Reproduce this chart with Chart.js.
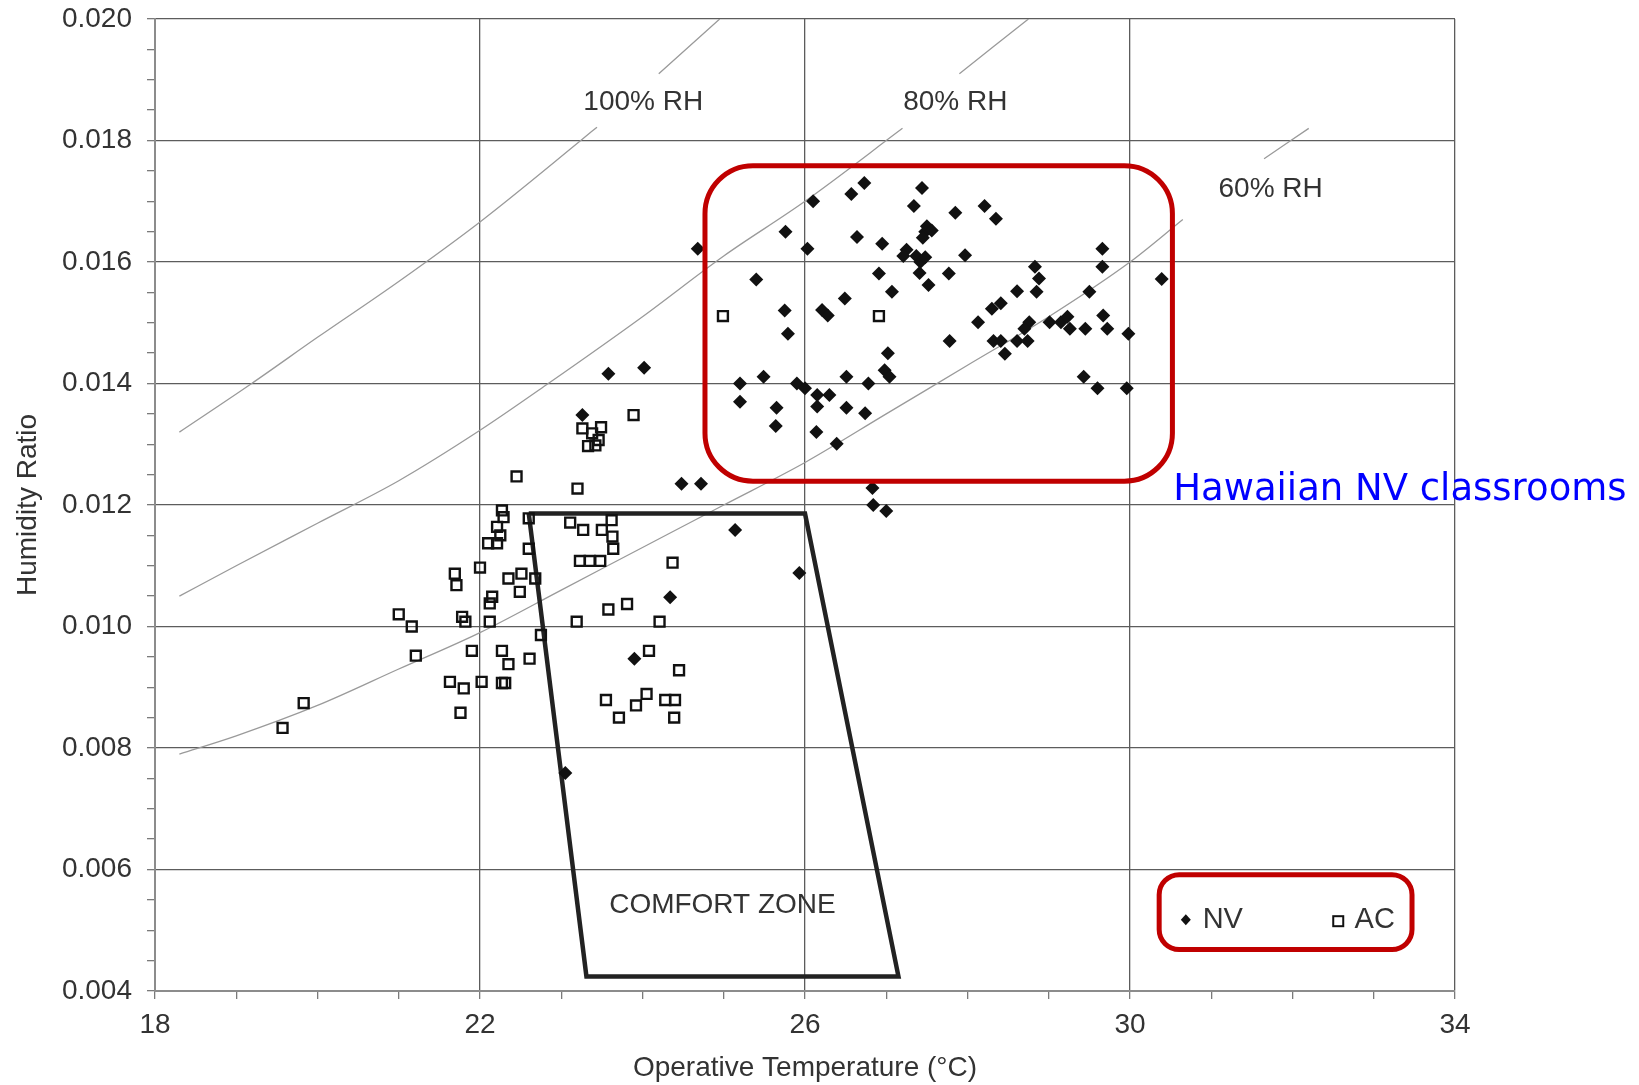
<!DOCTYPE html>
<html>
<head>
<meta charset="utf-8">
<title>Humidity ratio vs operative temperature</title>
<script src="https://cdn.jsdelivr.net/npm/chart.js@4.4.1/dist/chart.umd.min.js"></script>
<style>
    html, body { margin: 0; padding: 0; background: #ffffff; }
    #wrap { width: 1639px; height: 1085px; position: relative; }
</style>
</head>
<body>
<div id="wrap"><canvas id="psyChart"></canvas></div>
<script>
// --- DATA ---

// Naturally ventilated classrooms (filled diamonds)
const nvTemp = [
    26.73, 26.57, 26.10, 27.44, 27.34, 27.85, 28.21, 28.35,
    27.50, 27.48, 27.45, 27.56,
    25.76, 24.68, 26.03, 26.64, 26.95,
    27.25, 27.21, 27.37, 27.42, 27.48,
    27.97, 26.91, 27.41, 27.52, 27.77, 25.40, 27.07, 26.49, 25.75, 26.21, 26.28, 25.79, 27.02, 26.98, 27.04,
    25.20, 25.49, 25.20, 25.90, 26.00, 26.15, 26.30, 26.15, 26.51, 26.78, 25.65, 26.51, 26.74, 25.64, 26.14, 26.39,
    27.78, 28.13, 28.30, 28.41, 28.61, 28.83, 28.88, 28.85, 28.32, 28.41, 28.46, 28.61, 28.74, 28.76, 28.70,
    29.01, 29.15, 29.23, 29.26, 29.45, 29.50, 29.66, 29.66, 29.67, 29.72, 29.98, 29.43, 29.60, 29.96, 30.39,
    24.48, 24.72, 26.83, 26.84, 27.00, 25.14,
    23.58, 24.02, 23.26, 25.93, 24.34, 23.90, 23.05
];
const nvHum = [
    0.01730, 0.01712, 0.01700, 0.01722, 0.01692, 0.01681, 0.01692, 0.01671,
    0.01659, 0.01650, 0.01640, 0.01652,
    0.01650, 0.01622, 0.01622, 0.01641, 0.01630,
    0.01620, 0.01610, 0.01610, 0.01600, 0.01608,
    0.01611, 0.01581, 0.01582, 0.01562, 0.01581, 0.01571, 0.01551, 0.01540, 0.01520, 0.01521, 0.01512, 0.01482, 0.01450, 0.01422, 0.01411,
    0.01400, 0.01411, 0.01370, 0.01400, 0.01392, 0.01381, 0.01381, 0.01362, 0.01411, 0.01400, 0.01360, 0.01360, 0.01351, 0.01330, 0.01320, 0.01301,
    0.01470, 0.01501, 0.01523, 0.01532, 0.01552, 0.01592, 0.01573, 0.01551, 0.01470, 0.01470, 0.01449, 0.01470, 0.01470, 0.01501, 0.01490,
    0.01501, 0.01501, 0.01510, 0.01490, 0.01490, 0.01551, 0.01622, 0.01592, 0.01512, 0.01490, 0.01482, 0.01411, 0.01392, 0.01392, 0.01572,
    0.01235, 0.01235, 0.01228, 0.01200, 0.01190, 0.01159,
    0.01416, 0.01426, 0.01348, 0.01088, 0.01048, 0.00947, 0.00759
];

// Air-conditioned classrooms (open squares)
const acTemp = [
    24.99, 26.91,
    23.89, 23.26, 23.38, 23.49, 23.46, 23.33, 23.42,
    22.45, 23.20,
    22.27, 22.29, 22.21, 22.25, 22.10, 22.21,
    22.60, 22.60, 23.11, 23.27, 23.50, 23.62, 23.63, 23.64, 23.23, 23.35, 23.48, 24.37,
    22.00, 21.69, 21.71, 22.35, 22.51, 22.68, 22.49, 22.15, 22.12,
    21.00, 21.16, 21.78, 21.82, 22.12, 23.19, 23.58, 23.81, 24.21,
    22.75, 21.21, 21.90, 22.27, 22.35, 22.61, 24.08, 24.45,
    21.63, 21.80, 22.02, 22.27, 22.31,
    19.83, 19.57, 21.76, 23.55, 23.92, 24.05, 24.28, 24.40, 23.71, 24.39
];
const acHum = [
    0.01511, 0.01511,
    0.01348, 0.01326, 0.01318, 0.01328, 0.01307, 0.01297, 0.01298,
    0.01247, 0.01227,
    0.01191, 0.01180, 0.01164, 0.01150, 0.01137, 0.01137,
    0.01178, 0.01128, 0.01171, 0.01159, 0.01159, 0.01175, 0.01148, 0.01128, 0.01108, 0.01108, 0.01108, 0.01105,
    0.01097, 0.01087, 0.01068, 0.01079, 0.01087, 0.01079, 0.01057, 0.01049, 0.01038,
    0.01020, 0.01000, 0.01016, 0.01008, 0.01008, 0.01008, 0.01028, 0.01037, 0.01008,
    0.00986, 0.00952, 0.00960, 0.00960, 0.00938, 0.00947, 0.00960, 0.00928,
    0.00909, 0.00898, 0.00909, 0.00907, 0.00907,
    0.00874, 0.00833, 0.00858, 0.00879, 0.00870, 0.00889, 0.00879, 0.00879, 0.00850, 0.00850
];

// Relative humidity curves (null = gap left for the label)
const rh100Temp = [18.3, 19.19, 20, 21, 22, 23.24, 23.44, 23.8, 24.2, 24.95];
const rh100Hum = [0.0132, 0.0140, 0.01476, 0.01568, 0.01666, 0.0180, 0.01822, null, 0.0191, 0.0200];
const rh80Temp = [18.3, 19, 20, 21, 22, 22.84, 24, 25, 26, 27.2, 27.5, 27.9, 28.75];
const rh80Hum = [0.0105, 0.0110, 0.0117, 0.0124, 0.01323, 0.0140, 0.0151, 0.0161, 0.0170, 0.0182, null, 0.0191, 0.0200];
const rh60Temp = [18.3, 19, 20, 21, 22, 23, 24, 25, 26, 27, 28, 29, 30, 30.65, 31.1, 31.65, 32.2];
const rh60Hum = [0.0079, 0.0082, 0.0087, 0.0093, 0.0099, 0.0106, 0.0113, 0.0120, 0.0127, 0.0135, 0.0143, 0.0151, 0.0160, 0.0167, null, 0.0177, 0.0182];

// Comfort zone outline
const comfortTemp = [22.6, 26.0, 27.15, 23.31, 22.6];
const comfortHum = [0.01186, 0.01186, 0.00424, 0.00424, 0.01186];

// Axis ticks
const xMajorTicks = [18, 22, 26, 30, 34];
const yMajorTicks = [0.004, 0.006, 0.008, 0.010, 0.012, 0.014, 0.016, 0.018, 0.020];

const toPoints = (xs, ys) => xs.map((v, i) => ({ x: v, y: ys[i] }));

const FONT = "'Liberation Sans', Arial, Helvetica, sans-serif";
const TEXT_COLOR = '#333333';

const isMajorX = v => xMajorTicks.some(t => Math.abs(t - v) < 1e-6);
const isMajorY = v => yMajorTicks.some(t => Math.abs(t - v) < 1e-7);

// --- 2. ANNOTATIONS (red boxes, labels, legend) ---
function roundBox(ctx, x0, y0, x1, y1, r) {
    ctx.beginPath();
    ctx.moveTo(x0 + r, y0);
    ctx.arcTo(x1, y0, x1, y1, r);
    ctx.arcTo(x1, y1, x0, y1, r);
    ctx.arcTo(x0, y1, x0, y0, r);
    ctx.arcTo(x0, y0, x1, y0, r);
    ctx.closePath();
    ctx.stroke();
}

const annotationPlugin = {
    id: 'annotations',
    afterDraw(chart) {
        const { ctx } = chart;
        const sx = chart.scales.x, sy = chart.scales.y;
        const px = v => sx.getPixelForValue(v);
        const py = v => sy.getPixelForValue(v);

        ctx.save();

        // red highlight boxes
        ctx.strokeStyle = '#c00000';
        ctx.lineWidth = 5;
        roundBox(ctx, px(24.769), py(0.017585), px(30.522), py(0.012392), 48);
        roundBox(ctx, px(30.359), py(0.005914), px(33.471), py(0.004683), 20);

        // RH and comfort zone labels
        ctx.fillStyle = TEXT_COLOR;
        ctx.textBaseline = 'alphabetic';
        ctx.font = '28px ' + FONT;
        ctx.textAlign = 'left';
        ctx.fillText('100% RH', px(23.272), py(0.0185));
        ctx.fillText('80% RH', px(27.208), py(0.0185));
        ctx.fillText('60% RH', px(31.089), py(0.017072));
        ctx.textAlign = 'center';
        ctx.fillText('COMFORT ZONE', px(24.984), py(0.005281));

        // legend
        ctx.textAlign = 'left';
        ctx.font = '29px ' + FONT;
        ctx.fillText('NV', px(30.894), py(0.005034));
        ctx.fillText('AC', px(32.764), py(0.005034));
        const dx = px(30.687), dy = py(0.005174);
        ctx.fillStyle = '#111111';
        ctx.beginPath();
        ctx.moveTo(dx, dy - 5.5);
        ctx.lineTo(dx + 5, dy);
        ctx.lineTo(dx, dy + 5.5);
        ctx.lineTo(dx - 5, dy);
        ctx.closePath();
        ctx.fill();
        ctx.strokeStyle = '#111111';
        ctx.lineWidth = 2;
        ctx.strokeRect(px(32.563) - 5, py(0.005149) - 5, 10, 10);

        // blue caption
        ctx.fillStyle = '#0000ff';
        ctx.font = '10px ' + "'DejaVu Sans', Verdana, sans-serif";
        const w10 = ctx.measureText('Hawaiian NV classrooms').width;
        const size = 10 * 454 / w10;
        ctx.font = size.toFixed(1) + "px 'DejaVu Sans', Verdana, sans-serif";
        ctx.fillText('Hawaiian NV classrooms', px(30.531), py(0.012079));

        ctx.restore();
    }
};

// --- 3. CHART ---
const ctx = document.getElementById('psyChart').getContext('2d');

const myChart = new Chart(ctx, {
    type: 'scatter',
    data: {
        datasets: [
            {
                label: 'NV',
                data: toPoints(nvTemp, nvHum),
                pointStyle: 'rectRot',
                pointRadius: 7,
                backgroundColor: '#111111',
                borderColor: '#111111',
                borderWidth: 0
            },
            {
                label: 'AC',
                data: toPoints(acTemp, acHum),
                pointStyle: 'rect',
                pointRadius: 7,
                backgroundColor: 'rgba(0,0,0,0)',
                borderColor: '#111111',
                borderWidth: 2.4
            },
            {
                label: 'Comfort zone',
                data: toPoints(comfortTemp, comfortHum),
                showLine: true,
                pointRadius: 0,
                borderColor: '#222222',
                borderWidth: 4.5,
                borderJoinStyle: 'miter',
                tension: 0
            },
            {
                label: '100% RH',
                data: toPoints(rh100Temp, rh100Hum),
                showLine: true,
                spanGaps: false,
                pointRadius: 0,
                borderColor: '#9a9a9a',
                borderWidth: 1.3,
                cubicInterpolationMode: 'monotone'
            },
            {
                label: '80% RH',
                data: toPoints(rh80Temp, rh80Hum),
                showLine: true,
                spanGaps: false,
                pointRadius: 0,
                borderColor: '#9a9a9a',
                borderWidth: 1.3,
                cubicInterpolationMode: 'monotone'
            },
            {
                label: '60% RH',
                data: toPoints(rh60Temp, rh60Hum),
                showLine: true,
                spanGaps: false,
                pointRadius: 0,
                borderColor: '#9a9a9a',
                borderWidth: 1.3,
                cubicInterpolationMode: 'monotone'
            }
        ]
    },
    options: {
        responsive: true,
        maintainAspectRatio: false,
        animation: false,
        devicePixelRatio: 1,
        layout: { padding: { top: 19, right: 184, bottom: 0, left: 0 } },
        plugins: {
            legend: { display: false },
            tooltip: { enabled: false }
        },
        scales: {
            x: {
                type: 'linear',
                min: 18,
                max: 34,
                afterFit: s => {
                    s.height = 94;
                    s.paddingLeft = 0;
                    s.paddingRight = 0;
                },
                ticks: {
                    stepSize: 1,
                    autoSkip: false,
                    maxRotation: 0,
                    padding: 9,
                    color: TEXT_COLOR,
                    font: { family: FONT, size: 28 },
                    callback: v => isMajorX(v) ? String(v) : ''
                },
                grid: {
                    color: c => (c.tick && isMajorX(c.tick.value)) ? '#5c5c5c' : 'rgba(0,0,0,0)',
                    lineWidth: 1.3,
                    tickColor: '#7a7a7a',
                    tickLength: 8
                },
                border: { color: '#8c8c8c', width: 2 },
                title: {
                    display: true,
                    text: 'Operative Temperature (°C)',
                    color: TEXT_COLOR,
                    font: { family: FONT, size: 28 },
                    padding: { top: 0, bottom: 0 }
                }
            },
            y: {
                type: 'linear',
                min: 0.004,
                max: 0.020,
                afterFit: s => {
                    s.width = 155;
                    s.paddingTop = 0;
                    s.paddingBottom = 0;
                },
                ticks: {
                    stepSize: 0.0005,
                    autoSkip: false,
                    padding: 15,
                    color: TEXT_COLOR,
                    font: { family: FONT, size: 28 },
                    callback: v => isMajorY(v) ? v.toFixed(3) : ''
                },
                grid: {
                    color: c => (c.tick && isMajorY(c.tick.value)) ? '#5c5c5c' : 'rgba(0,0,0,0)',
                    lineWidth: 1.3,
                    tickColor: '#7a7a7a',
                    tickLength: 8
                },
                border: { color: '#8c8c8c', width: 2 },
                title: {
                    display: true,
                    text: 'Humidity Ratio',
                    color: TEXT_COLOR,
                    font: { family: FONT, size: 28 },
                    padding: { top: 11, bottom: 0 }
                }
            }
        }
    },
    plugins: [annotationPlugin]
});
</script>
</body>
</html>
